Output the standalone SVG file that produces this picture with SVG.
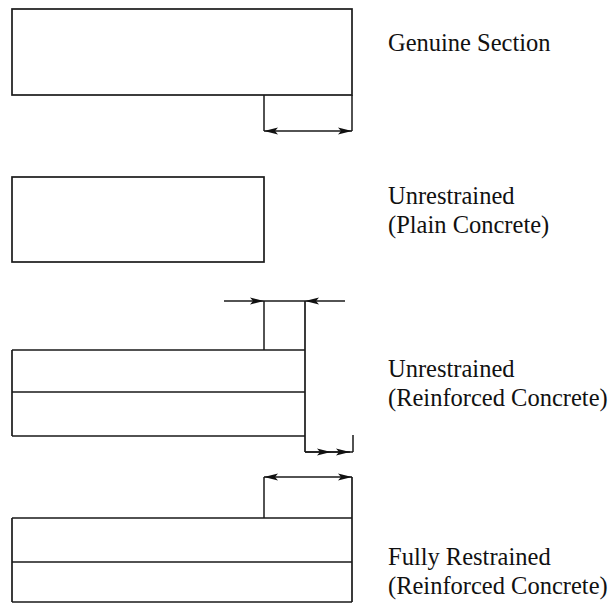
<svg xmlns="http://www.w3.org/2000/svg" width="614" height="604" viewBox="0 0 614 604">
<defs>
<style>
.s{fill:none;stroke:#1a1a1a;stroke-width:1.7}
.t{font-size:24.5px;fill:#111}
.d{fill:none;stroke:#1a1a1a;stroke-width:1.5}
</style>
<marker id="ah" viewBox="0 0 14 8" refX="14" refY="4" markerWidth="14" markerHeight="8" markerUnits="userSpaceOnUse" orient="auto-start-reverse">
<path d="M0,0.5 L14,4 L0,7.5 L3,4 Z" fill="#111"/>
</marker>
</defs>
<rect width="614" height="604" fill="#fff"/>
<g id="genuine">
<rect class="s" x="12" y="9" width="340" height="86"/>
<text class="t" font-family="'Liberation Serif', 'Times New Roman', Times, serif" x="388" y="51">Genuine Section</text>
</g>
<g id="plain">
<rect class="s" x="12" y="177" width="252" height="85"/>
<text class="t" font-family="'Liberation Serif', 'Times New Roman', Times, serif" x="388" y="204">Unrestrained</text>
<text class="t" font-family="'Liberation Serif', 'Times New Roman', Times, serif" x="388" y="233">(Plain Concrete)</text>
</g>
<g id="reinforced">
<path class="s" d="M12,350 H305 M12,392 H305 M12,436 H305 M12,350 V436 M305,301 V452"/>
<text class="t" font-family="'Liberation Serif', 'Times New Roman', Times, serif" x="388" y="377">Unrestrained</text>
<text class="t" font-family="'Liberation Serif', 'Times New Roman', Times, serif" x="388" y="406">(Reinforced Concrete)</text>
</g>
<g id="restrained">
<path class="s" d="M12,518 H352 M12,562 H352 M12,602 H352 M12,518 V602 M352,477 V602"/>
<text class="t" font-family="'Liberation Serif', 'Times New Roman', Times, serif" x="388" y="565">Fully Restrained</text>
<text class="t" font-family="'Liberation Serif', 'Times New Roman', Times, serif" x="388" y="594">(Reinforced Concrete)</text>
</g>
<g id="connectors">
<path class="d" d="M264,95 V131 M352,95 V131"/>
<path class="d" d="M264,131 H352" marker-start="url(#ah)" marker-end="url(#ah)"/>
<path class="d" d="M264,301 V350"/>
<path class="d" d="M305,301 H264"/>
<path class="d" d="M224,301 H264" marker-end="url(#ah)"/>
<path class="d" d="M345,301 H305" marker-end="url(#ah)"/>
<path class="d" d="M305,452 H353 M353,435 V452"/>
<path class="d" d="M305,452 H331" marker-end="url(#ah)"/>
<path class="d" d="M331,452 H350" marker-end="url(#ah)"/>
<path class="d" d="M264,477 V518"/>
<path class="d" d="M264,477 H352" marker-start="url(#ah)" marker-end="url(#ah)"/>
</g>
</svg>
